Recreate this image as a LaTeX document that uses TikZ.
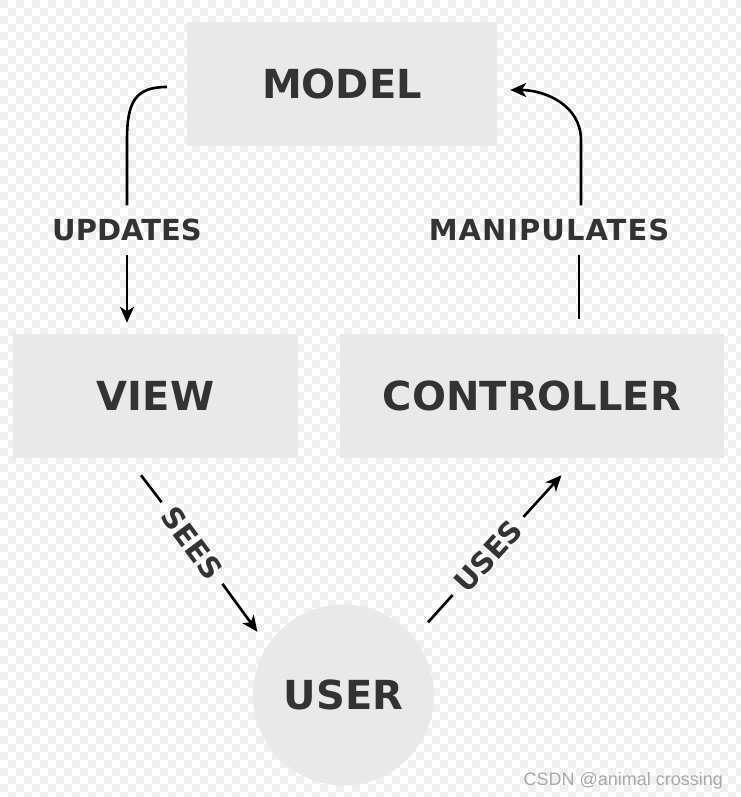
\documentclass[tikz,border=0pt]{standalone}
\usepackage{fontspec}
\setmainfont{DejaVu Sans}
\newfontfamily\markfont{Liberation Sans}
\usetikzlibrary{arrows.meta,positioning}

\definecolor{boxgray}{HTML}{E9E9E9}
\definecolor{textgray}{HTML}{333333}
\definecolor{checkgray}{HTML}{EFEFEF}
\definecolor{markgray}{HTML}{A8A8A8}

\tikzset{
  box/.style={fill=boxgray, text=textgray, inner sep=0pt,
    font=\fontsize{40}{40}\selectfont\bfseries, text height=29pt, text depth=0pt},
  lbl/.style={text=textgray, inner xsep=10pt, inner ysep=14pt,
    font=\fontsize{29}{29}\selectfont\bfseries, text height=21pt, text depth=0pt},
  wire/.style={line width=2.6pt},
  link/.style={wire, -{Stealth[length=16pt,width=14pt,inset=4.5pt]}},
}

\begin{document}
\begin{tikzpicture}[x=1pt,y=-1pt]
  \useasboundingbox (0,0) rectangle (740,797);
  % background squares
  \foreach \r in {0,...,99} {
    \pgfmathtruncatemacro{\sh}{mod(\r,2)*8}
    \foreach \c in {0,16,...,736}
      \fill[checkgray] (\c+\sh,\r*8) rectangle ++(8,8);
  }

  \node[box, minimum width=310pt, minimum height=124pt] (model) at (342,84) {MODEL};
  \node[box, minimum width=285pt, minimum height=124pt] (view) at (155.5,396) {VIEW};
  \node[box, minimum width=384pt, minimum height=124pt] (controller) at (532,396) {CONTROLLER};
  \node[box, circle, minimum size=181pt] (user) at (343.5,695) {USER};

  \node[lbl] (updates) at (127,230) {UPDATES};
  \node[lbl] (manipulates) at (549,230) {\addfontfeature{LetterSpace=3.5}MANIPULATES};
  \node[lbl, rotate=-53.3] (sees) at (192,543) {SEES};
  \node[lbl, rotate=47.8] (uses) at (488,556) {USES};

  % model -> view
  \draw[wire] ([shift={(-20,3)}]model.west) .. controls +(-32,0) and +(0,-38) .. ([yshift=65pt]updates.north) -- (updates.north);
  \draw[link, shorten >=11pt] (updates.south) -- (updates.south |- view.north);

  % controller -> model
  \draw[wire] ([shift={(47,-15)}]controller.north) -- ([xshift=47pt]controller.north |- manipulates.south);
  \draw[link] ([xshift=49pt]controller.north |- manipulates.north) -- ++(0,-65) .. controls +(0,-35) and +(35,0) .. ([shift={(13,6)}]model.east);

  % view -> user -> controller
  \draw[wire] ([shift={(-14.5,17)}]view.south) -- (sees.west);
  \draw[link, shorten >=17pt] (sees.east) -- (user.147);
  \draw[wire, shorten <=21pt] (user.39) -- (uses.west);
  \draw[link, shorten >=23pt] (uses.east) -- ([xshift=45pt]controller.south);

  \node[anchor=base west, text=markgray, font=\markfont\fontsize{18}{18}\selectfont] (mark) at (520,785) {CSDN @animal crossing};
\end{tikzpicture}
\end{document}
